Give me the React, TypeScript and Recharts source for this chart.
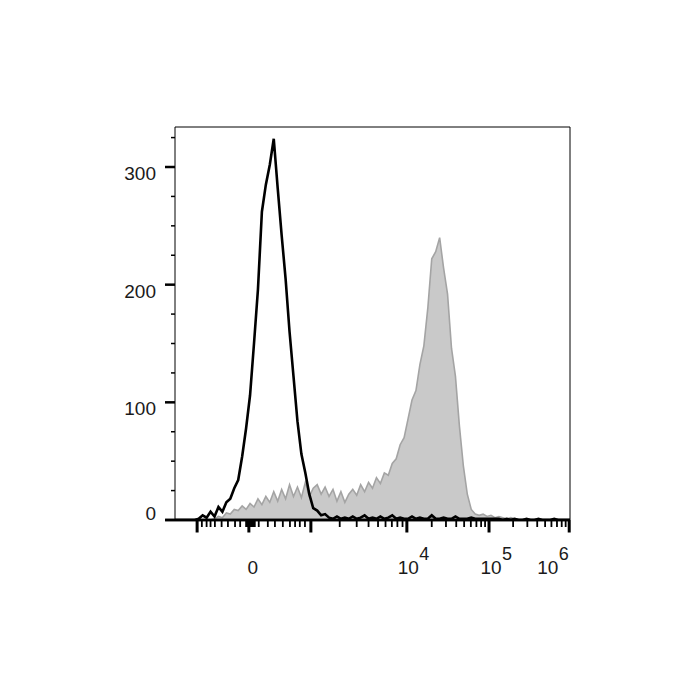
import { Area, ComposedChart, Line, ReferenceLine, XAxis, YAxis } from "recharts";

// Histogram bins on the display (biexponential) channel scale, 0..1000
const binStep = 10;

// Stained sample (grey filled histogram), counts per bin
const stained = [
  0, 0, 0, 0, 0, 0, 0, 0, 0, 0,
  1, 3, 2, 6, 5, 9, 8, 12, 9, 14,
  11, 18, 13, 20, 15, 24, 16, 26, 18, 30,
  20, 28, 19, 32, 20, 27, 30, 22, 28, 20,
  26, 16, 24, 15, 22, 26, 21, 30, 24, 32,
  27, 36, 31, 40, 38, 48, 52, 64, 70, 86,
  102, 110, 132, 148, 180, 222, 228, 240, 214, 192,
  146, 122, 80, 46, 22, 9, 5, 4, 5, 3,
  4, 2, 3, 2, 1, 2, 1, 0, 0, 0,
  0, 0, 0, 0, 0, 0, 0, 0, 0, 0,
  0,
];

// Isotype control (black open histogram), counts per bin
const control = [
  0, 0, 0, 0, 0, 0, 1, 4, 2, 7,
  3, 11, 7, 15, 18, 27, 34, 54, 78, 106,
  150, 196, 262, 285, 302, 324, 282, 242, 205, 160,
  122, 84, 56, 40, 22, 10, 8, 4, 5, 2,
  1, 3, 1, 2, 1, 3, 1, 2, 4, 1,
  2, 1, 3, 1, 2, 4, 1, 2, 1, 1,
  3, 1, 2, 1, 1, 4, 1, 1, 2, 1,
  1, 3, 1, 1, 1, 2, 1, 1, 1, 1,
  1, 1, 1, 0, 1, 0, 1, 0, 0, 1,
  0, 0, 1, 0, 0, 0, 1, 0, 0, 0,
  0,
];

const bins = control.map((_, i) => i * binStep);

// x axis ticks (channel units): -10^3, 0, 10^3, 10^4, 10^5, 10^6
const xMajorTicks = [56, 187, 344, 587, 795, 998];
const xMinorTicks = [
  68, 80, 90, 101, 118, 134, 152, 165, 180, 183, 186, 190, 193, 196, 199, 202,
  212, 235, 253, 273, 291, 304, 316, 329,
  417, 460, 490, 514, 533, 549, 563, 576,
  650, 686, 712, 732, 749, 763, 775, 785,
  856, 892, 917, 937, 953, 967, 979, 989,
];
const xLabelTicks = [187, 587, 795, 998];
const xLabelBase = ["0", "10", "10", "10"];
const xLabelExp = ["", "4", "5", "6"];

const yMajorTicks = [0, 100, 200, 300];
const yTicks = [0, 25, 50, 75, 100, 125, 150, 175, 200, 225, 250, 275, 300, 325];
const yMax = 334;

const data = bins.map((x, i) => ({ x, stained: stained[i], control: control[i] }));
const allXTicks = [...xMajorTicks, ...xMinorTicks].sort((a, b) => a - b);

const font = "'Liberation Sans', Arial, sans-serif";
const labelDx = [4, 1.5, 2, -21.5];

const XTick = (props: any) => {
  const { x, y, payload } = props;
  const v = payload.value;
  const major = xMajorTicks.includes(v);
  const li = xLabelTicks.indexOf(v);
  return (
    <g>
      <line x1={x} x2={x} y1={y} y2={y + (major ? 12.5 : 7)} stroke="#000" strokeWidth={major ? 3 : 1.8} />
      {li >= 0 && (
        <g fontFamily={font} fontSize={19} fill="#1a1a1a">
          <text x={x + labelDx[li]} y={y + 54} textAnchor="middle">
            {xLabelBase[li]}
          </text>
          {xLabelExp[li] && (
            <text x={x + labelDx[li] + 11} y={y + 40} textAnchor="start" fontSize={18}>
              {xLabelExp[li]}
            </text>
          )}
        </g>
      )}
    </g>
  );
};

const YTick = (props: any) => {
  const { x, y, payload } = props;
  const v = payload.value;
  const major = yMajorTicks.includes(v);
  return (
    <g>
      <line x1={x - (major ? 10 : 4)} x2={x} y1={y} y2={y} stroke="#000" strokeWidth={major ? 2.5 : 1.5} />
      {major && (
        <text x={x - 19} y={y + (v === 0 ? 0 : 13)} textAnchor="end" fontFamily={font} fontSize={19} fill="#1a1a1a">
          {v}
        </text>
      )}
    </g>
  );
};

export default function App() {
  return (
    <div style={{ position: "absolute", left: 0, top: 0, width: 700, height: 700, background: "#fff" }}>
      <ComposedChart width={700} height={700} data={data} margin={{ top: 127, right: 130, bottom: 120, left: 115 }}>
        <XAxis
          dataKey="x"
          type="number"
          domain={[0, 1000]}
          allowDataOverflow
          ticks={allXTicks}
          interval={0}
          tick={<XTick />}
          tickLine={false}
          tickSize={0}
          tickMargin={0}
          height={60}
          axisLine={{ stroke: "#000", strokeWidth: 2.5 }}
        />
        <YAxis
          type="number"
          domain={[0, yMax]}
          allowDataOverflow
          ticks={yTicks}
          interval={0}
          tick={<YTick />}
          tickLine={false}
          tickSize={0}
          tickMargin={0}
          width={60}
          axisLine={{ stroke: "#000", strokeWidth: 1 }}
        />
        <Area
          type="linear"
          dataKey="stained"
          stroke="#a4a4a4"
          strokeWidth={1.6}
          fill="#c9c9c9"
          fillOpacity={1}
          dot={false}
          activeDot={false}
          isAnimationActive={false}
        />
        <Line
          type="linear"
          dataKey="control"
          stroke="#000"
          strokeWidth={2.6}
          dot={false}
          activeDot={false}
          isAnimationActive={false}
        />
        <ReferenceLine y={yMax} stroke="#000" strokeWidth={1} />
        <ReferenceLine x={1000} stroke="#000" strokeWidth={1} />
        <ReferenceLine
          segment={[{ x: -25, y: 0 }, { x: 1000, y: 0 }]}
          ifOverflow="visible"
          stroke="#000"
          strokeWidth={2.5}
        />
      </ComposedChart>
    </div>
  );
}
